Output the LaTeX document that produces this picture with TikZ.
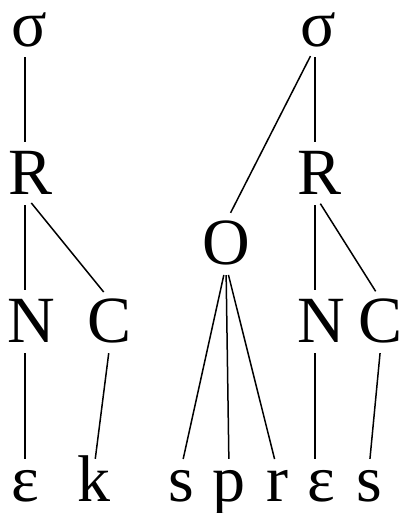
\documentclass[tikz,border=0pt]{standalone}
\usepackage{fontspec}
\setmainfont{Liberation Serif}
\usepackage{tikz}

\begin{document}
\begin{tikzpicture}[
  x=1pt, y=1pt,
  seg/.style={inner sep=0pt, anchor=base, text depth=0pt,
              font=\fontsize{66}{66}\selectfont},
  capseg/.style={seg, text height=43pt},
  lowseg/.style={seg, text height=33pt},
  branch/.style={line width=1.5pt, color=black, shorten <=10pt, shorten >=10pt}
]
\useasboundingbox (0,0) rectangle (402,513);

\node[lowseg] (sig1) at (29,466) {σ};
\node[lowseg] (sig2) at (318,466) {σ};
\node[capseg] (rhy1) at (31,318) {R};
\node[capseg] (rhy2) at (320,318) {R};
\node[capseg] (ons)  at (226,248) {O};
\node[capseg] (nuc1) at (31,170) {N};
\node[capseg] (cod1) at (110,170) {C};
\node[capseg] (nuc2) at (321,170) {N};
\node[capseg] (cod2) at (381,170) {C};

\node[lowseg] (e1) at (25,11)  {ɛ};
\node[lowseg] (k)  at (94,11)  {k};
\node[lowseg] (s1) at (181,11) {s};
\node[lowseg] (p)  at (229,11) {p};
\node[lowseg] (r)  at (277,11) {r};
\node[lowseg] (e2) at (321,11) {ɛ};
\node[lowseg] (s2) at (369,11) {s};

\coordinate (col2) at (315,0);

\draw[branch] (sig1.south -| e1) -- (rhy1.north -| e1);
\draw[branch] (rhy1.south -| e1) -- (nuc1.north -| e1);
\draw[branch] (rhy1.south -| e1) -- (cod1.north);
\draw[branch] (nuc1.south -| e1) -- (e1.north);
\draw[branch] (cod1.south) -- (k.north);

\draw[branch] (sig2.south -| col2) -- (rhy2.north -| col2);
\draw[branch] (sig2.south -| col2) -- (ons.north);
\draw[branch] (rhy2.south -| col2) -- (nuc2.north -| col2);
\draw[branch] (rhy2.south -| col2) -- (cod2.north);
\draw[branch] (nuc2.south -| col2) -- (e2.north -| col2);
\draw[branch] (cod2.south) -- (s2.north);

\draw[branch] (ons.south) -- (s1.north);
\draw[branch] (ons.south) -- (p.north);
\draw[branch] (ons.south) -- (r.north);

\end{tikzpicture}
\end{document}
